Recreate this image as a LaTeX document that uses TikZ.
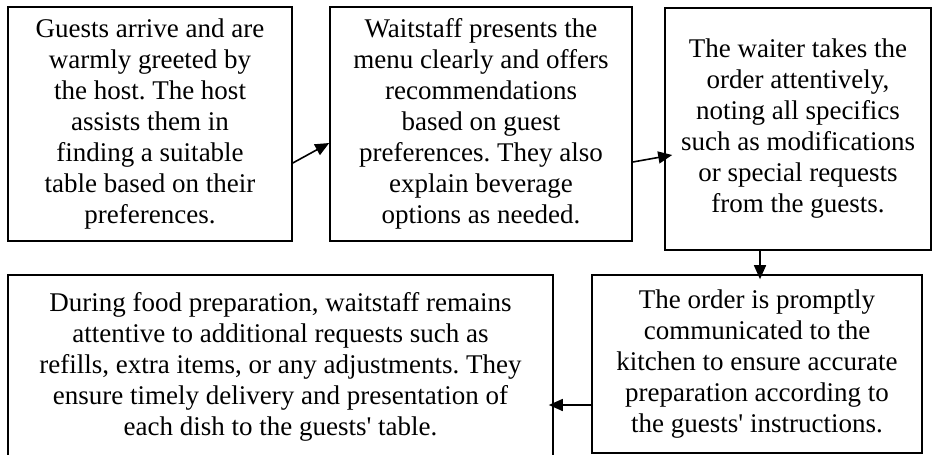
\documentclass[tikz,border=0pt]{standalone}
\usepackage{fontspec}
\setmainfont{Liberation Serif}
\usetikzlibrary{arrows.meta}
\frenchspacing
\begin{document}
\begin{tikzpicture}[x=1pt,y=-1pt,
  stepbox/.style={draw=black, line width=1.6pt, align=center, inner sep=0pt,
    font=\fontsize{27}{31}\selectfont},
  flow/.style={line width=1.6pt, -{Triangle[length=14pt,width=12pt]}}]
\useasboundingbox[fill=white] (0,0) rectangle (945,455);
\node[stepbox, minimum width=284pt, minimum height=234pt] (b1) at (150,124)
  {Guests arrive and are\\warmly greeted by\\the host. The host\\assists them in\\finding a suitable\\table based on their\\preferences.};
\node[stepbox, minimum width=302pt, minimum height=234pt] (b2) at (481,124)
  {Waitstaff presents the\\menu clearly and offers\\recommendations\\based on guest\\preferences. They also\\explain beverage\\options as needed.};
\node[stepbox, minimum width=266pt, minimum height=242pt] (b3) at (798,129)
  {The waiter takes the\\order attentively,\\noting all specifics\\such as modifications\\or special requests\\from the guests.};
\node[stepbox, minimum width=545pt, minimum height=183pt] (b4) at (280.5,366.5)
  {During food preparation, waitstaff remains\\attentive to additional requests such as\\refills, extra items, or any adjustments. They\\ensure timely delivery and presentation of\\each dish to the guests\textquotesingle{} table.};
\node[stepbox, minimum width=330pt, minimum height=178pt] (b5) at (757,364)
  {The order is promptly\\communicated to the\\kitchen to ensure accurate\\preparation according to\\the guests\textquotesingle{} instructions.};
\draw[flow] ([yshift=-39pt]b1.east) -- ([yshift=-19pt]b2.west);
\draw[flow] ([yshift=-38pt]b2.east) -- ([xshift=8pt,yshift=-26pt]b3.west);
\draw[flow] ([xshift=-38pt]b3.south) -- ([xshift=3pt,yshift=-5pt]b5.north);
\draw[flow] ([yshift=-41pt]b5.west) -- ([xshift=-5pt,yshift=-38.5pt]b4.east);
\end{tikzpicture}
\end{document}
